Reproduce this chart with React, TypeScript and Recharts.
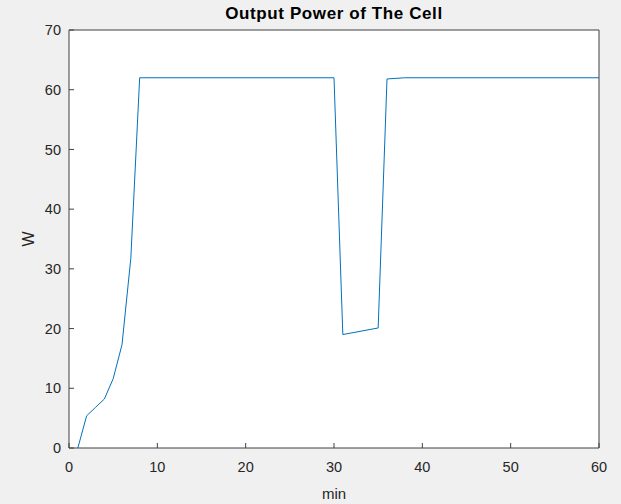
import React from 'react';
import { LineChart, Line, XAxis, YAxis, CartesianGrid, Label } from 'recharts';

// minutes and output power (W)
const minutes = [1, 2, 3, 4, 5, 6, 7, 8, 30, 31, 35, 36, 38, 60];
const power = [0, 5.4, 6.8, 8.2, 11.6, 17.3, 31.8, 62, 62, 19.0, 20.1, 61.8, 62, 62];
const xTicks = [0, 10, 20, 30, 40, 50, 60];
const yTicks = [0, 10, 20, 30, 40, 50, 60, 70];

const data = minutes.map((m, i) => ({ x: m, w: power[i] }));

const AXIS = '#404040';
const FONT = '"Liberation Sans", Arial, sans-serif';

export default function App() {
  return (
    <div style={{ position: 'fixed', left: 0, top: 0, width: 621, height: 504, background: '#f0f0f0', fontFamily: FONT }}>
      <LineChart width={621} height={504} data={data} margin={{ top: 0, right: 0, bottom: 0, left: 0 }}>
        <CartesianGrid horizontal={false} vertical={false} fill="#ffffff" />
        <XAxis
          xAxisId="b"
          dataKey="x"
          type="number"
          domain={[0, 60]}
          ticks={xTicks}
          height={56}
          stroke={AXIS}
          tickSize={-5}
          tickMargin={19}
          tick={{ fill: '#262626', fontSize: 14.5 }}
        >
          <Label value="min" position="insideBottom" offset={5} fill="#262626" fontSize={15} />
        </XAxis>
        <XAxis
          xAxisId="t"
          orientation="top"
          dataKey="x"
          type="number"
          domain={[0, 60]}
          ticks={xTicks}
          height={30}
          stroke={AXIS}
          tickSize={-5}
          tick={false}
        >
          <Label value="Output Power of The Cell" position="center" dy={-2} fill="#000" fontSize={17} fontWeight="bold" letterSpacing={0.6} />
        </XAxis>
        <YAxis
          yAxisId="l"
          domain={[0, 70]}
          ticks={yTicks}
          width={69}
          stroke={AXIS}
          tickSize={-5}
          tickMargin={13}
          tick={{ fill: '#262626', fontSize: 14.5 }}
        >
          <Label value="W" position="center" angle={-90} dx={-6} fill="#262626" fontSize={16} />
        </YAxis>
        <YAxis
          yAxisId="r"
          orientation="right"
          domain={[0, 70]}
          ticks={yTicks}
          width={22}
          stroke={AXIS}
          tickSize={-5}
          tick={false}
        />
        <Line
          xAxisId="b"
          yAxisId="l"
          type="linear"
          dataKey="w"
          stroke="#0072BD"
          strokeWidth={1}
          dot={false}
          isAnimationActive={false}
        />
      </LineChart>
    </div>
  );
}
